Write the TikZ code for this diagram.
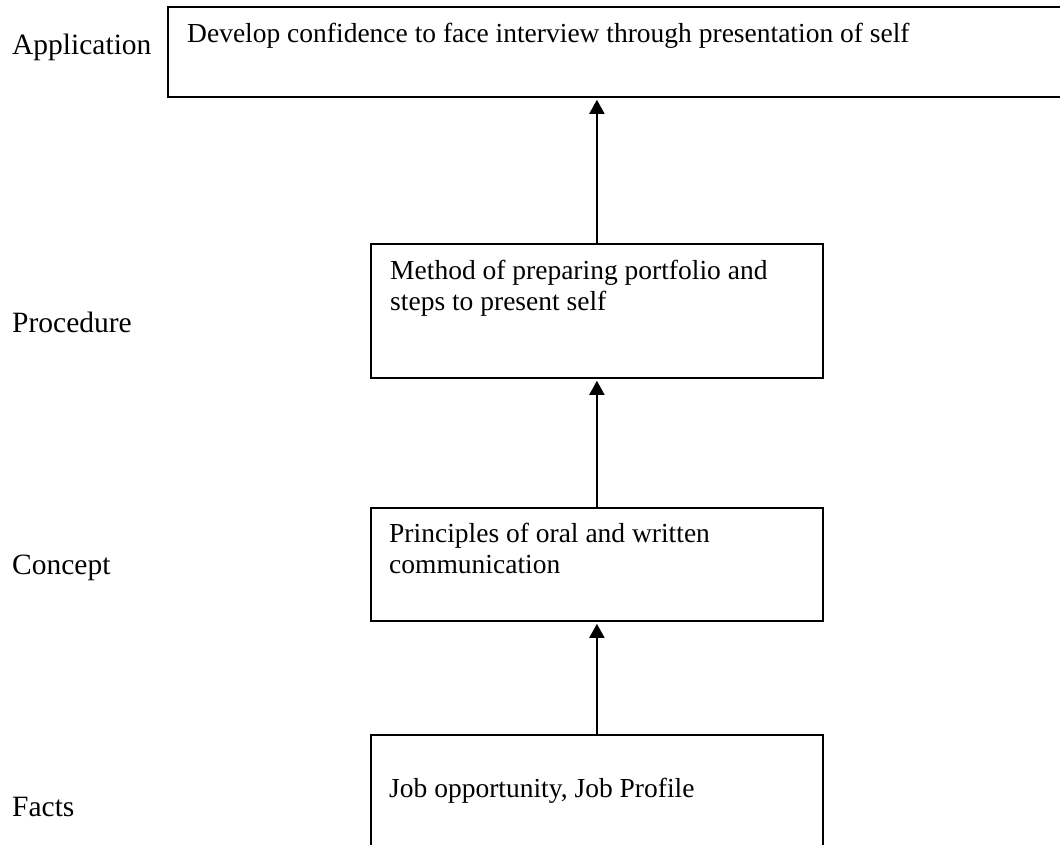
\documentclass[tikz,border=0pt]{standalone}
\usepackage{fontspec}
\setmainfont{Liberation Serif}
\usetikzlibrary{arrows.meta}
\begin{document}
\begin{tikzpicture}[x=1pt,y=-1pt,
  box/.style={draw, line width=1.8pt, rectangle, inner sep=0pt, anchor=north west},
  level/.style={anchor=base west, inner sep=0pt, font=\fontsize{29.5}{33}\selectfont},
  boxtext/.style={anchor=base west, inner sep=0pt, align=left, font=\fontsize{27.5}{31}\selectfont},
  uparrow/.style={line width=1.8pt, -{Triangle[width=15pt,length=14pt]}, shorten >=2pt}]
\useasboundingbox (0,0) rectangle (1060,844);
\clip (0,0) rectangle (1060,844);
% boxes
\node[box, minimum width=913pt, minimum height=90pt] (app) at (167,6) {};
\node[box, minimum width=452pt, minimum height=134pt] (proc) at (370,243) {};
\node[box, minimum width=452pt, minimum height=113pt] (conc) at (370,507) {};
\node[box, minimum width=452pt, minimum height=146pt] (facts) at (370,734) {};
% level labels
\node[level] (lapp) at (12,54) {Application};
\node[level] (lproc) at (12,332) {Procedure};
\node[level] (lconc) at (12,574) {Concept};
\node[level] (lfacts) at (12,816) {Facts};
% box texts
\node[boxtext] (tapp) at (187,42) {Develop confidence to face interview through presentation of self};
\node[boxtext] (tproc) at (390,310) {Method of preparing portfolio and\\steps to present self};
\node[boxtext] (tconc) at (389,573) {Principles of oral and written\\communication};
\node[boxtext] (tfacts) at (389,797) {Job opportunity, Job Profile};
% arrows
\draw[uparrow] (facts.north) -- (conc.south);
\draw[uparrow] (conc.north) -- (proc.south);
\draw[uparrow] (proc.north) -- (proc.north |- app.south);
\end{tikzpicture}
\end{document}
